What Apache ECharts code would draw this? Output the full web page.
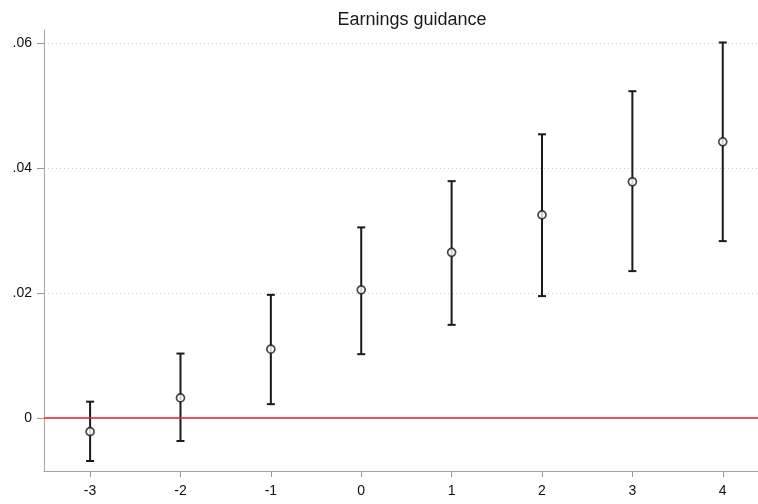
<!DOCTYPE html>
<html>
<head>
<meta charset="utf-8">
<script src="https://cdn.jsdelivr.net/npm/echarts@6/dist/echarts.min.js"></script>
<style>
  html, body { margin: 0; padding: 0; background: #fff; }
  #chart { width: 758px; height: 504px; }
</style>
</head>
<body>
<div id="chart"></div>
<script>
// Event-time periods and estimated coefficients with confidence bounds
const periods = [-3, -2, -1, 0, 1, 2, 3, 4];
const estimates = [-0.0022, 0.0032, 0.0110, 0.0205, 0.0265, 0.0325, 0.0378, 0.0442];
const upperBounds = [0.0026, 0.0103, 0.0197, 0.0305, 0.0379, 0.0454, 0.0523, 0.0601];
const lowerBounds = [-0.0069, -0.0037, 0.0022, 0.0102, 0.0149, 0.0195, 0.0235, 0.0283];
const yTicks = [0, 0.02, 0.04, 0.06];
const xTicks = [-3, -2, -1, 0, 1, 2, 3, 4];

const chart = echarts.init(document.getElementById('chart'), null, { renderer: 'canvas' });

const fontFamily = 'Liberation Sans, Arial, sans-serif';
const axisGray = '#a6a6a6';

function fmtY(v) {
  if (Math.abs(v) < 1e-9) return '0';
  return v.toFixed(2).replace(/^0/, '');
}

const errorData = periods.map((p, i) => [p, lowerBounds[i], upperBounds[i]]);

const option = {
  animation: false,
  backgroundColor: '#ffffff',
  title: {
    text: 'Earnings guidance',
    left: 407,
    top: 6,
    textAlign: 'center',
    textStyle: { fontFamily, fontSize: 18, fontWeight: 'normal', color: '#1a1a1a' }
  },
  grid: { left: 44, right: 0, top: 30, bottom: 33 },
  xAxis: {
    type: 'value',
    min: -3.51,
    max: 4.39,
    axisLine: { show: true, onZero: false, lineStyle: { color: axisGray, width: 1 } },
    axisTick: { show: true, length: 6, customValues: xTicks, lineStyle: { color: '#999', width: 1 } },
    axisLabel: {
      customValues: xTicks,
      color: '#111', fontFamily, fontSize: 14, margin: 13,
      formatter: v => String(v)
    },
    splitLine: { show: false }
  },
  yAxis: {
    type: 'value',
    min: -0.0085,
    max: 0.0621,
    axisLine: { show: true, onZero: false, lineStyle: { color: axisGray, width: 1 } },
    axisTick: { show: true, length: 7, customValues: yTicks, lineStyle: { color: '#999', width: 1 } },
    axisLabel: {
      customValues: yTicks,
      color: '#111', fontFamily, fontSize: 14, margin: 12,
      formatter: fmtY
    },
    splitLine: {
      show: true,
      lineStyle: { color: '#cfcfcf', type: [1, 3], width: 1 }
    }
  },
  series: [
    {
      // reference line at zero
      type: 'line',
      data: [],
      markLine: {
        silent: true,
        symbol: ['none', 'none'],
        label: { show: false },
        lineStyle: { color: '#ee1c1c', type: 'solid', width: 1.5 },
        data: [{ yAxis: 0 }]
      },
      z: 3
    },
    {
      // confidence interval whiskers with caps
      type: 'custom',
      data: errorData,
      z: 4,
      renderItem: function (params, api) {
        const x = api.value(0);
        const lo = api.coord([x, api.value(1)]);
        const hi = api.coord([x, api.value(2)]);
        const half = 4;
        const style = { stroke: '#1a1a1a', lineWidth: 2, fill: null };
        return {
          type: 'group',
          children: [
            { type: 'line', shape: { x1: lo[0], y1: lo[1], x2: hi[0], y2: hi[1] }, style },
            { type: 'line', shape: { x1: hi[0] - half, y1: hi[1], x2: hi[0] + half, y2: hi[1] }, style },
            { type: 'line', shape: { x1: lo[0] - half, y1: lo[1], x2: lo[0] + half, y2: lo[1] }, style }
          ]
        };
      }
    },
    {
      // point estimates as hollow circles
      type: 'scatter',
      data: periods.map((p, i) => [p, estimates[i]]),
      symbol: 'circle',
      symbolSize: 8,
      itemStyle: { color: '#ffffff', borderColor: '#1a1a1a', borderWidth: 1.7 },
      z: 5
    }
  ]
};

chart.setOption(option);
</script>
</body>
</html>
